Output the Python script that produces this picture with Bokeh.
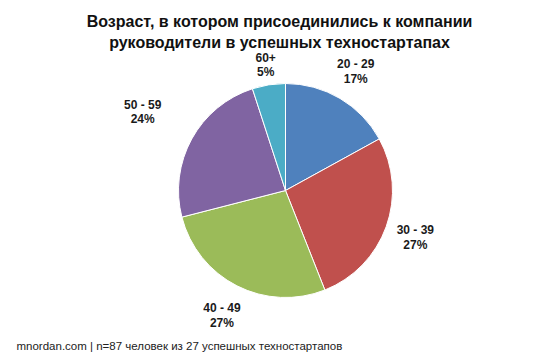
import math
from bokeh.plotting import figure
from bokeh.models import ColumnDataSource, Range1d, Label
from bokeh.embed import file_html
from bokeh.resources import INLINE
from bokeh.core.properties import value

categories = ["20 - 29", "30 - 39", "40 - 49", "50 - 59", "60+"]
percents = [17, 27, 27, 24, 5]
colors = ["#4F81BD", "#C0504D", "#9BBB59", "#8064A2", "#4BACC6"]
title_lines = ["Возраст, в котором присоединились к компании",
               "руководители в успешных техностартапах"]
footnote = "mnordan.com | n=87 человек из 27 успешных техностартапов"

W, H = 560, 357
cx, cy, R = 285, H - 190, 107
label_dist = [138, 138, 140, 163, 127]

p = figure(width=W, height=H, output_backend="svg", toolbar_location=None,
           x_range=Range1d(0, W), y_range=Range1d(0, H), min_border=0)
p.axis.visible = False
p.grid.visible = False
p.outline_line_color = None
p.background_fill_color = "white"

total = sum(percents)
starts, ends, lx, ly, texts = [], [], [], [], []
acc = 0
for c, v, d in zip(categories, percents, label_dist):
    a0 = math.pi / 2 - 2 * math.pi * acc / total
    a1 = math.pi / 2 - 2 * math.pi * (acc + v) / total
    starts.append(a0)
    ends.append(a1)
    mid = (a0 + a1) / 2
    lx.append(cx + d * math.cos(mid))
    ly.append(cy + d * math.sin(mid))
    texts.append(f"{c}\n{v}%")
    acc += v

src = ColumnDataSource(dict(x=[cx] * len(percents), y=[cy] * len(percents),
                            start=starts, end=ends, color=colors))
p.wedge(x="x", y="y", radius=R, start_angle="start", end_angle="end",
        direction="clock", fill_color="color", line_color="white",
        line_width=1, source=src)

lsrc = ColumnDataSource(dict(x=lx, y=ly, t=texts))
p.text(x="x", y="y", text="t", source=lsrc, text_align="center",
       text_baseline="middle", text_font=value("Liberation Sans"),
       text_font_style="bold", text_font_size="12px", text_color="#1a1a1a",
       text_line_height=1.05)

for i, line in enumerate(title_lines):
    p.add_layout(Label(x=W / 2 - 1, y=H - 21 - i * 21, text=line,
                       text_align="center", text_baseline="middle",
                       text_font="Liberation Sans", text_font_style="bold",
                       text_font_size="16px", text_color="#111111"))

p.add_layout(Label(x=16, y=H - 345, text=footnote, text_align="left",
                   text_baseline="middle", text_font="Liberation Sans",
                   text_font_size="11.5px", text_color="#222222"))

open("out.html", "w").write(file_html(p, INLINE))
